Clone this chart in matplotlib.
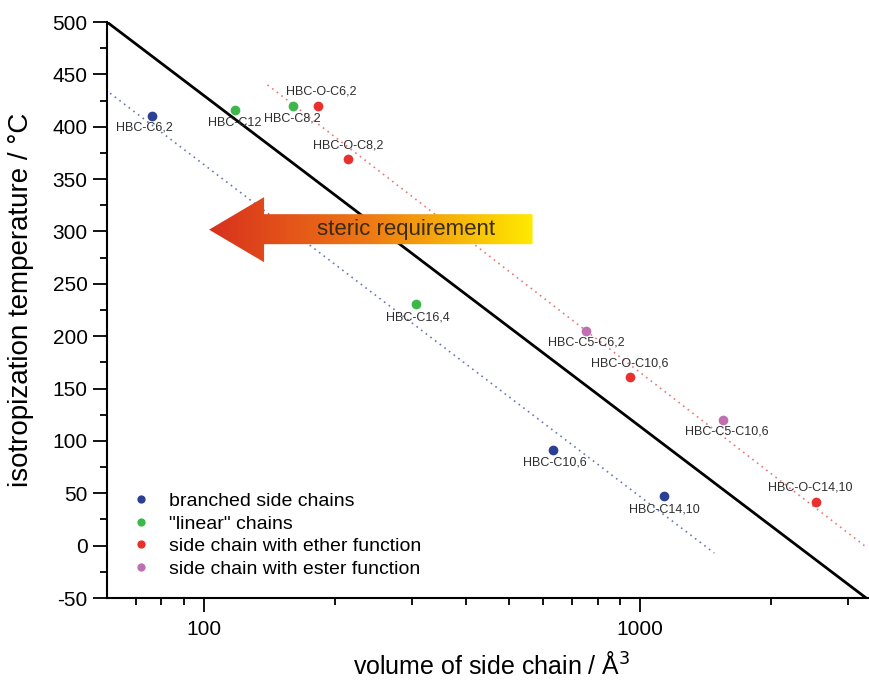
import numpy as np
import matplotlib
matplotlib.use("Agg")
import matplotlib.pyplot as plt
from matplotlib.patches import Polygon
from matplotlib.colors import LinearSegmentedColormap
from matplotlib.ticker import FixedLocator, NullFormatter, MultipleLocator

plt.rcParams['font.family'] = ['Liberation Sans', 'DejaVu Sans']
plt.rcParams['axes.unicode_minus'] = False

# data: (volume / A^3, isotropization temperature / C)
groups = ["branched side chains", '"linear" chains',
          "side chain with ether function", "side chain with ester function"]
colors = ["#2b3f94", "#3cb84a", "#e8302c", "#c070b0"]

branched_names = ["HBC-C6,2", "HBC-C10,6", "HBC-C14,10"]
branched_vol = [76, 632, 1135]
branched_temp = [410, 91, 47]

linear_names = ["HBC-C12", "HBC-C8,2", "HBC-C16,4"]
linear_vol = [118, 160, 306]
linear_temp = [416, 420, 231]

ether_names = ["HBC-O-C6,2", "HBC-O-C8,2", "HBC-O-C10,6", "HBC-O-C14,10"]
ether_vol = [183, 214, 948, 2530]
ether_temp = [420, 369, 161, 42]

ester_names = ["HBC-C5-C6,2", "HBC-C5-C10,6"]
ester_vol = [752, 1550]
ester_temp = [205, 120]

# label offsets in pixels
label_offsets = {
    "HBC-C6,2": (-7, -11), "HBC-C10,6": (2, -12), "HBC-C14,10": (0, -13),
    "HBC-C12": (0, -13), "HBC-C8,2": (0, -13), "HBC-C16,4": (2, -14),
    "HBC-O-C6,2": (3, 14), "HBC-O-C8,2": (0, 14), "HBC-O-C10,6": (0, 14),
    "HBC-O-C14,10": (-6, 14), "HBC-C5-C6,2": (0, -12), "HBC-C5-C10,6": (4, -12),
}

# guide lines
main_x = [60, 3300]
main_y = [500, -50]
blue_x = [61, 1480]
blue_y = [432, -7]
red_x = [140, 3270]
red_y = [440, 0]

fig = plt.figure(figsize=(8.69, 6.84), dpi=100)
ax = fig.add_axes([0.1231, 0.1257, 0.8769, 0.8421])

ax.plot(main_x, main_y, color="black", lw=2)
ax.plot(blue_x, blue_y, color="#6a78b8", lw=1.2, ls=(0, (1, 2.5)))
ax.plot(red_x, red_y, color="#e87878", lw=1.2, ls=(0, (1, 2.5)))

sets = [(branched_names, branched_vol, branched_temp),
        (linear_names, linear_vol, linear_temp),
        (ether_names, ether_vol, ether_temp),
        (ester_names, ester_vol, ester_temp)]

for (names, xs, ys), grp, col in zip(sets, groups, colors):
    ax.plot(xs, ys, "o", color=col, ms=7, mec="none", label=grp, zorder=5)
    for n, x, y in zip(names, xs, ys):
        dx, dy = label_offsets[n]
        ax.annotate(n, (x, y), xytext=(dx, dy), textcoords="offset pixels",
                    ha="center", va="center", fontsize=9, color="#2e2e2e")

ax.set_xscale("log")
ax.set_xlim(60, 3350)
ax.set_ylim(-50, 500)
ax.xaxis.set_major_locator(FixedLocator([100, 1000]))
ax.xaxis.set_minor_locator(FixedLocator([70, 80, 90, 200, 300, 400, 500, 600,
                                         700, 800, 900, 2000, 3000]))
ax.xaxis.set_minor_formatter(NullFormatter())
ax.set_xticklabels(["100", "1000"])
ax.yaxis.set_major_locator(MultipleLocator(50))
ax.yaxis.set_minor_locator(MultipleLocator(25))
ax.tick_params(axis="both", which="major", direction="out", length=10,
               width=1.3, labelsize=15)
ax.tick_params(axis="both", which="minor", direction="out", length=5, width=1.3)
ax.tick_params(axis="x", which="major", pad=6)
ax.tick_params(axis="y", which="major", pad=4)
for s in ["top", "right"]:
    ax.spines[s].set_visible(False)
for s in ["left", "bottom"]:
    ax.spines[s].set_linewidth(1.5)

ax.set_xlabel("volume of side chain / Å$^3$", fontsize=18)
ax.xaxis.set_label_coords(0.505, -0.094)
ax.set_ylabel("isotropization temperature / °C", fontsize=20)
ax.yaxis.set_label_coords(-0.096, 0.517)

ax.legend(loc="lower left", bbox_to_anchor=(0.019, 0.035), frameon=False,
          fontsize=14, handletextpad=0.45, handlelength=2.0, labelspacing=0.26,
          markerscale=0.85, borderpad=0, borderaxespad=0)

# gradient arrow "steric requirement"
arr = ax.inset_axes([0.134, 0.583, 0.4245, 0.113])
arr.set_xlim(0, 1)
arr.set_ylim(0, 1)
arr.axis("off")
cmap = LinearSegmentedColormap.from_list("steric", ["#d8301e", "#ee7a14", "#ffea00"])
grad = np.linspace(0, 1, 256).reshape(1, -1)
im = arr.imshow(grad, cmap=cmap, extent=[0, 1, 0, 1], aspect="auto")
shape = Polygon([(0, 0.5), (0.17, 1.0), (0.17, 0.738), (1, 0.738),
                 (1, 0.277), (0.17, 0.277), (0.17, 0.0)],
                closed=True, facecolor="none", edgecolor="none",
                transform=arr.transData)
arr.add_patch(shape)
im.set_clip_path(shape)
arr.text(0.61, 0.5, "steric requirement", ha="center", va="center",
         fontsize=16, color="#3a2a10")

fig.savefig("out.png", dpi=100)
